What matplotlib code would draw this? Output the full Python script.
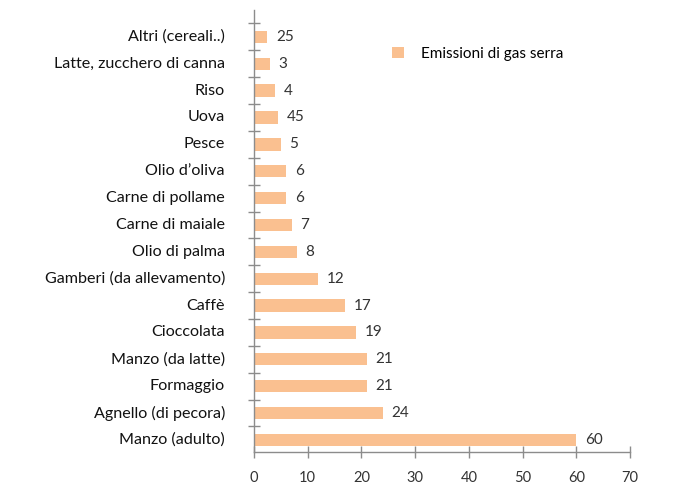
import matplotlib
matplotlib.use('Agg')
from matplotlib import pyplot as plt

categories = ['Manzo (adulto)', 'Agnello (di pecora)', 'Formaggio', 'Manzo (da latte)',
              'Cioccolata', 'Caffè', 'Gamberi (da allevamento)', 'Olio di palma',
              'Carne di maiale', 'Carne di pollame', "Olio d\u2019oliva", 'Pesce',
              'Uova', 'Riso', 'Latte, zucchero di canna', 'Altri (cereali..)']
values = [60, 24, 21, 21, 19, 17, 12, 8, 7, 6, 6, 5, 4.5, 4, 3, 2.5]
value_labels = ['60', '24', '21', '21', '19', '17', '12', '8', '7', '6', '6', '5',
                '45', '4', '3', '25']
xticks = [0, 10, 20, 30, 40, 50, 60, 70]

plt.rcParams['font.family'] = ['Lato', 'DejaVu Sans']

fig = plt.figure(figsize=(6.79, 4.98), dpi=100)
ax = fig.add_axes([254 / 679, 1 - 452 / 498, 376 / 679, 442 / 498])

pos = list(range(len(categories)))
bars = ax.barh(pos, values, height=0.46, color='#FAC090', label='Emissioni di gas serra')
for p, v, t in zip(pos, values, value_labels):
    ax.text(v + 1.6, p, t, va='center', ha='left', fontsize=11, color='#333333')

ax.set_xlim(0, 70)
ax.set_ylim(-0.45, 16.0)
ax.set_xticks(xticks)
ax.set_xticklabels([str(x) for x in xticks], fontsize=10.5, color='#333333')
ax.set_yticks([p + 0.5 for p in pos])
ax.set_yticklabels([])
for p, c in zip(pos, categories):
    ax.text(-5.4, p, c, ha='right', va='center', fontsize=11.6, color='#111111')

for s in ['top', 'right']:
    ax.spines[s].set_visible(False)
for s in ['left', 'bottom']:
    ax.spines[s].set_color('#8c8c8c')
    ax.spines[s].set_linewidth(1.0)
ax.tick_params(axis='both', direction='inout', length=8, width=1.0, color='#8c8c8c')
ax.tick_params(axis='x', pad=10)

ax.legend(loc='upper left', bbox_to_anchor=(378 / 679, 1 - 33 / 498),
          bbox_transform=fig.transFigure, frameon=False, fontsize=11,
          handlelength=0.8, handleheight=0.8, handletextpad=1.1)

fig.savefig('out.png', dpi=100)
